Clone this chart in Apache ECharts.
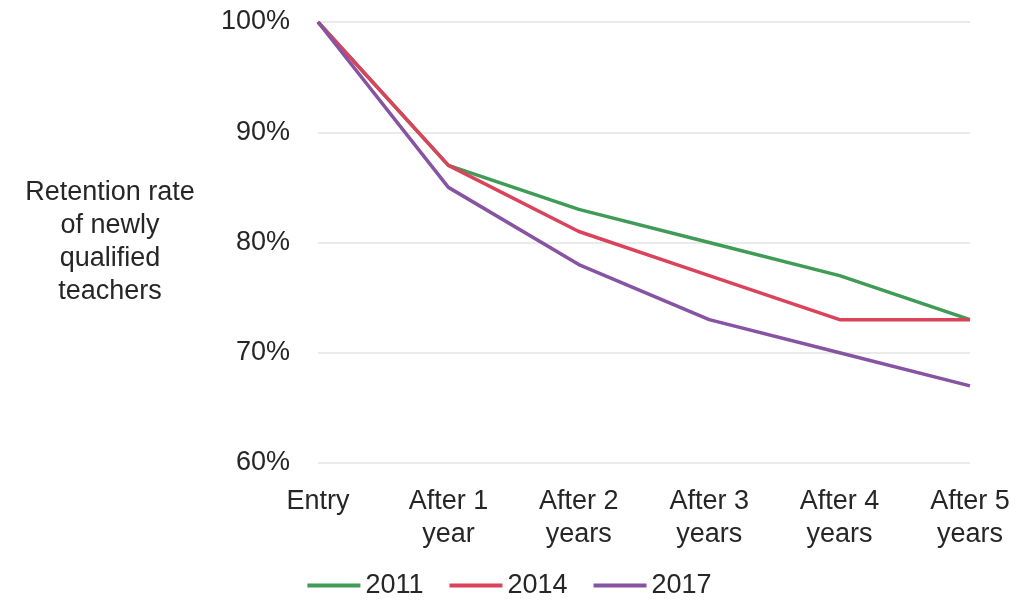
<!DOCTYPE html>
<html>
<head>
<meta charset="utf-8">
<script src="https://cdn.jsdelivr.net/npm/echarts@6/dist/echarts.min.js"></script>
<style>html,body{margin:0;padding:0;background:#fff;}#c{width:1019px;height:607px;}</style>
</head>
<body>
<div id="c"></div>
<script>
var categories = ['Entry', 'After 1\nyear', 'After 2\nyears', 'After 3\nyears', 'After 4\nyears', 'After 5\nyears'];
var s2011 = [100, 87, 83, 80, 77, 73];
var s2014 = [100, 87, 81, 77, 73, 73];
var s2017 = [100, 85, 78, 73, 70, 67];
var seriesNames = ['2011', '2014', '2017'];
var colors = ['#3f9b56', '#db435b', '#8753a3'];

var chart = echarts.init(document.getElementById('c'));
var font = 'Liberation Sans, Arial, sans-serif';
function mk(name, data, color) {
  return {
    name: name, type: 'line', data: data, symbol: 'none',
    lineStyle: { color: color, width: 3.5 }, itemStyle: { color: color }
  };
}
chart.setOption({
  animation: false,
  color: colors,
  grid: { left: 318, right: 49, top: 22, bottom: 144 },
  legend: {
    bottom: 3, left: 'center',
    itemWidth: 53, itemHeight: 4, itemGap: 26,
    icon: 'rect',
    textStyle: { fontSize: 27, color: '#262626', fontFamily: font },
    data: seriesNames
  },
  xAxis: {
    type: 'category', boundaryGap: false, data: categories,
    axisLine: { show: false }, axisTick: { show: false },
    axisLabel: { fontSize: 27, lineHeight: 33, color: '#262626', fontFamily: font, margin: 22 }
  },
  yAxis: {
    type: 'value', min: 60, max: 100, interval: 10,
    name: 'Retention rate\nof newly\nqualified\nteachers',
    nameLocation: 'middle', nameRotate: 0, nameGap: 208,
    nameTextStyle: { fontSize: 27, lineHeight: 33, color: '#262626', fontFamily: font, align: 'center' },
    axisLine: { show: false }, axisTick: { show: false },
    splitLine: { lineStyle: { color: '#e3e3e3', width: 1.5 } },
    axisLabel: { formatter: '{value}%', fontSize: 27, color: '#262626', fontFamily: font, margin: 28 }
  },
  series: [mk(seriesNames[0], s2011, colors[0]), mk(seriesNames[1], s2014, colors[1]), mk(seriesNames[2], s2017, colors[2])]
});
</script>
</body>
</html>
